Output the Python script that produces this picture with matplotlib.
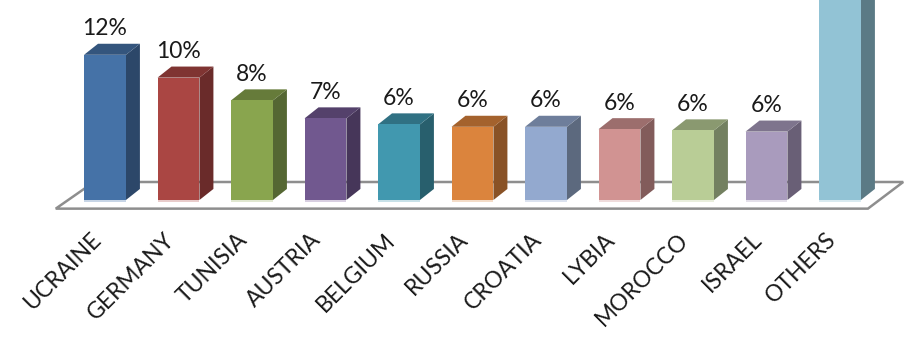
import matplotlib
matplotlib.use('Agg')
import matplotlib.pyplot as plt
from matplotlib.patches import Polygon

countries = ['UCRAINE', 'GERMANY', 'TUNISIA', 'AUSTRIA', 'BELGIUM', 'RUSSIA',
             'CROATIA', 'LYBIA', 'MOROCCO', 'ISRAEL', 'OTHERS']
values = [12.1, 10.2, 8.3, 6.8, 6.3, 6.1, 6.1, 5.9, 5.8, 5.7, 22.0]
value_labels = ['12%', '10%', '8%', '7%', '6%', '6%', '6%', '6%', '6%', '6%', '']

front_colors = ['#4572a7', '#aa4643', '#89a54e', '#71588f', '#4198af', '#db843d',
                '#93a9cf', '#d19392', '#b9cd96', '#a99bbd', '#92c3d5']
top_colors = ['#34557d', '#7f3432', '#667b3a', '#54416b', '#307183', '#a4622d',
              '#6e7e9b', '#9c6e6d', '#8a9970', '#7e748d', '#6d929f']
side_colors = ['#2c4769', '#6a2b2a', '#556733', '#463659', '#285f6d', '#895226',
               '#5c697e', '#825c5b', '#738060', '#695f76', '#5b7a85']
base_colors = ['#c7d5e6', '#e8cccb', '#e0e7d0', '#d8cfe1', '#c8e1e8', '#f3dcc8',
               '#dbe2ef', '#efdcdc', '#e9eedd', '#e3dfe9', '#d9eaf0']

bar_w = 0.57
depth_x = 0.19
depth_y = 0.92

fig = plt.figure(figsize=(9.22, 3.42), dpi=100)
ax = fig.add_axes([0, 0, 1, 1])
ax.set_xlim(-105 / 73.5, 817 / 73.5)
ax.set_ylim(-142 / 12, 200 / 12)
ax.axis('off')

# floor of the 3d chart
floor = Polygon([(-0.67, -0.72), (10.38, -0.72), (10.86, 1.5), (-0.15, 1.5)], closed=True,
                facecolor='white', edgecolor='#8e8e8e', linewidth=1.8, zorder=1)
ax.add_patch(floor)

for i, (c, v) in enumerate(zip(countries, values)):
    left = i - bar_w / 2
    right = i + bar_w / 2
    ax.bar(i, 0.2, bottom=-0.2, width=bar_w, color=base_colors[i], zorder=2)
    ax.add_patch(Polygon([(right, 0), (right + depth_x, depth_y), (right + depth_x, v + depth_y), (right, v)],
                         facecolor=side_colors[i], edgecolor='none', zorder=2))
    ax.add_patch(Polygon([(left, v), (left + depth_x, v + depth_y), (right + depth_x, v + depth_y), (right, v)],
                         facecolor=top_colors[i], edgecolor='none', zorder=2))
    ax.bar(i, v, width=bar_w, color=front_colors[i], zorder=3)
    if value_labels[i]:
        ax.text(i, v + 1.3, value_labels[i], ha='center', va='bottom', fontsize=16.5,
                family='Lato', color='#1a1a1a')
    ax.annotate(c, xy=(i, 0), xytext=(-15, -29), textcoords='offset pixels', rotation=45,
                rotation_mode='anchor', ha='right', va='top', fontsize=16.5, family='Lato',
                color='#1a1a1a')

fig.savefig('out.png', dpi=100)
